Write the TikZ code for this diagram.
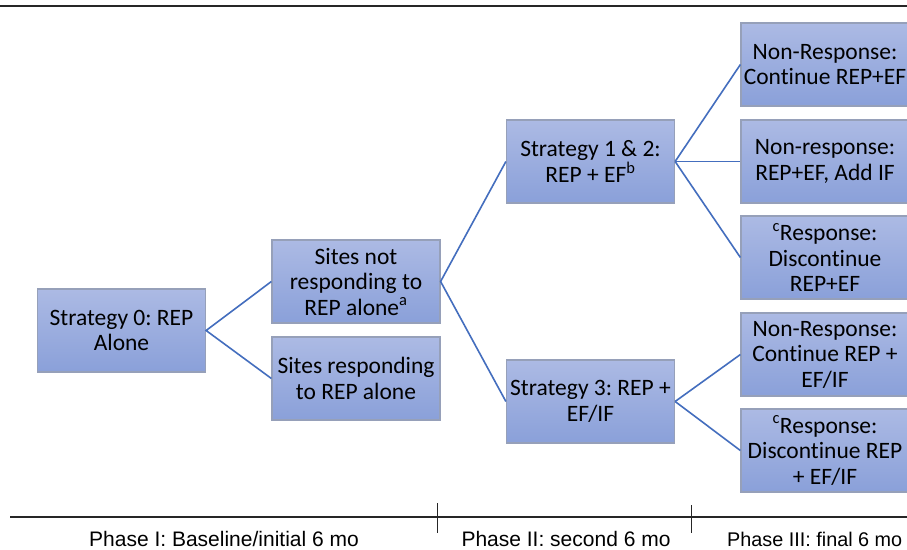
\documentclass[tikz,border=0pt]{standalone}
\usepackage{fontspec}
\setmainfont{Carlito}[Ligatures={NoCommon}]
\newfontfamily\arialf{Liberation Sans}
\frenchspacing
\definecolor{boxtop}{RGB}{172,186,228}
\definecolor{boxbot}{RGB}{138,160,217}
\definecolor{boxline}{RGB}{150,160,185}
\definecolor{conn}{RGB}{68,110,190}
\tikzset{
  box/.style={draw=boxline, line width=1.2pt, top color=boxtop, bottom color=boxbot,
    minimum width=168pt, minimum height=83pt, align=center,
    inner sep=0pt, font=\fontsize{23.5}{25.5}\selectfont},
  link/.style={draw=conn, line width=1.6pt},
  phase/.style={font=\arialf\fontsize{21}{24}\selectfont, anchor=base, inner sep=0pt}
}
\begin{document}
\begin{tikzpicture}[x=1pt,y=-1pt]
\useasboundingbox (0,0) rectangle (907,549);
\clip (0,0) rectangle (907,549);
\fill[white] (0,0) rectangle (907,549);
\coordinate (tl) at (0,6);
\coordinate (tr) at (907,6);
\draw[line width=2pt, black!85] (tl) -- (tr);

\node[box] (s0) at (121.5,330.5) {Strategy 0: REP\\Alone};
\node[box] (sn) at (356,281.5) {Sites not\\responding to\\REP alone\textsuperscript{a}};
\node[box] (sr) at (356,378.5) {Sites responding\\to REP alone};
\node[box] (s12) at (590.5,161.5) {Strategy 1 \& 2:\\REP + EF\textsuperscript{b}};
\node[box] (s3) at (590.5,401.5) {Strategy 3: REP +\\EF/IF};
\node[box] (r1) at (825,64.5) {Non-Response:\\Continue REP+EF};
\node[box] (r2) at (825,161.5) {Non-response:\\REP+EF, Add IF};
\node[box] (r3) at (825,257.5) {\textsuperscript{c}Response:\\Discontinue\\REP+EF};
\node[box] (r4) at (825,354.5) {Non-Response:\\Continue REP +\\EF/IF};
\node[box] (r5) at (825,450.5) {\textsuperscript{c}Response:\\Discontinue REP\\+ EF/IF};

\draw[link] (sn.west) -- (s0.east) -- (sr.west);
\draw[link] (s12.west) -- (sn.east) -- (s3.west);
\draw[link] (s12.east) -- (r1.west);
\draw[link] (s12.east) -- (r2.west);
\draw[link] (s12.east) -- (r3.west);
\draw[link] (s3.east) -- (r4.west);
\draw[link] (s3.east) -- (r5.west);

\coordinate (ls) at (10,517);
\coordinate (le) at (907,517);
\draw[line width=1.3pt, black!85] (ls) -- (le);
\coordinate (t1a) at (437,503);
\coordinate (t1b) at (437,533);
\coordinate (t2a) at (691,505);
\coordinate (t2b) at (691,533);
\draw[line width=0.9pt, black!85] (t1a) -- (t1b);
\draw[line width=0.9pt, black!85] (t2a) -- (t2b);

\node[phase] (p1) at (224,546) {Phase I: Baseline/initial 6 mo};
\node[phase] (p2) at (566,546) {Phase II: second 6 mo};
\node[phase, anchor=base west, font=\arialf\fontsize{19.8}{24}\selectfont] (p3) at (727,546) {Phase III: final 6 mo};
\end{tikzpicture}
\end{document}
